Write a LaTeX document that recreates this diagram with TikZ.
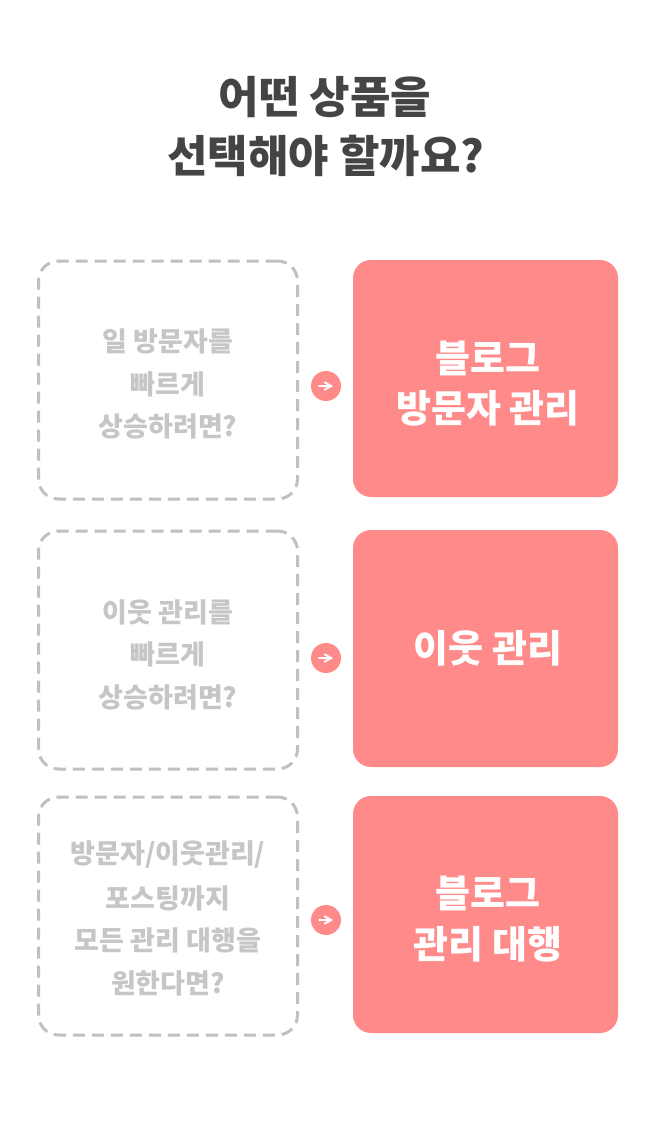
\documentclass[tikz,border=0pt]{standalone}
\usepackage{fontspec}
\setmainfont{Noto Sans CJK KR}[BoldFont={Noto Sans CJK KR Black}]
\usepackage{xcolor}
\usepackage{tikz}
\usetikzlibrary{arrows}
\definecolor{headcol}{HTML}{444444}
\definecolor{pinkcol}{HTML}{FF8A8A}
\definecolor{dashcol}{HTML}{C0C0C0}
\definecolor{asktext}{HTML}{C6C6C6}
\tikzset{x=1pt,y=-1pt,
  askbox/.style={draw=dashcol,line width=3pt,dash pattern=on 12pt off 7pt,rounded corners=20pt,minimum width=259pt,minimum height=238pt,inner sep=0pt},
  askline/.style={text=asktext,font=\fontsize{27}{27}\selectfont\bfseries},
  pickbox/.style={fill=pinkcol,rounded corners=18pt,minimum width=265pt,minimum height=237pt,inner sep=0pt},
  pickline/.style={text=white,font=\fontsize{38}{38}\selectfont\bfseries},
  headline/.style={text=headcol,font=\fontsize{44}{44}\selectfont\bfseries},
  dotmark/.style={circle,fill=pinkcol,minimum size=30pt,inner sep=0pt},
  dotarrow/.style={white,line width=2pt,line cap=round,->,>=angle 60}
}
\begin{document}
\begin{tikzpicture}
\useasboundingbox[fill=white] (0,0) rectangle (652,1124);
\node[headline] (headone) at (325,97){어떤 상품을};
\node[headline] (headtwo) at (326,156){선택해야 할까요?};
% first row
\node[askbox] (askone) at (168,380){};
\node[askline] (askonea) at (168,341){일 방문자를};
\node[askline] (askoneb) at (168,384){빠르게};
\node[askline] (askonec) at (168,426){상승하려면?};
\node[dotmark] (dotone) at (326,386){};
\coordinate (dotonel) at (319,386);
\coordinate (dotoner) at (333,386);
\draw[dotarrow] (dotonel)--(dotoner);
\node[pickbox] (pickone) at (485.5,378.5){};
\node[pickline] (pickonea) at (488,358){블로그};
\node[pickline] (pickoneb) at (488,408){방문자 관리};
% second row
\node[askbox] (asktwo) at (168,650){};
\node[askline] (asktwoa) at (168,612){이웃 관리를};
\node[askline] (asktwob) at (168,654){빠르게};
\node[askline] (asktwoc) at (168,697){상승하려면?};
\node[dotmark] (dottwo) at (326,658){};
\coordinate (dottwol) at (319,658);
\coordinate (dottwor) at (333,658);
\draw[dotarrow] (dottwol)--(dottwor);
\node[pickbox] (picktwo) at (485.5,648.5){};
\node[pickline] (picktwoa) at (488,648){이웃 관리};
% third row
\node[askbox] (askthree) at (168,916){};
\node[askline] (askthreea) at (168,855){방문자/이웃관리/};
\node[askline] (askthreeb) at (168,898){포스팅까지};
\node[askline] (askthreec) at (168,940){모든 관리 대행을};
\node[askline] (askthreed) at (168,983){원한다면?};
\node[dotmark] (dotthree) at (326,920){};
\coordinate (dotthreel) at (319,920);
\coordinate (dotthreer) at (333,920);
\draw[dotarrow] (dotthreel)--(dotthreer);
\node[pickbox] (pickthree) at (485.5,914.5){};
\node[pickline] (pickthreea) at (488,893){블로그};
\node[pickline] (pickthreeb) at (488,944){관리 대행};
\end{tikzpicture}
\end{document}
